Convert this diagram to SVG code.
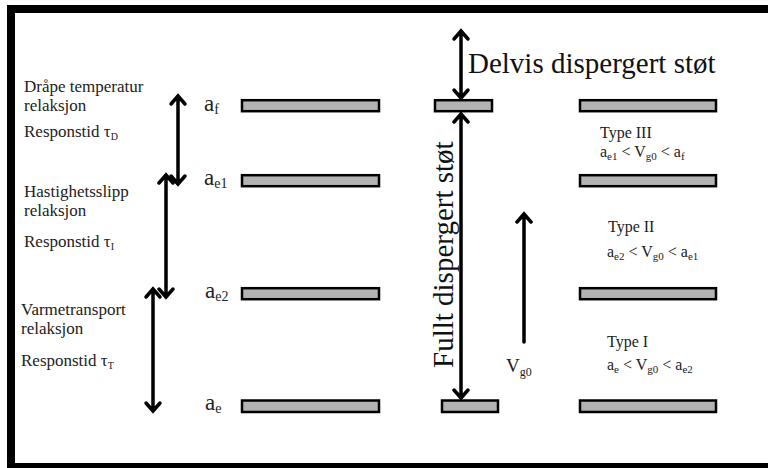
<svg xmlns="http://www.w3.org/2000/svg" width="768" height="468" viewBox="0 0 768 468">
<style>
.bar{fill:#b3b3b3;stroke:#000;stroke-width:2.5}
.t{font-family:"Liberation Serif","Times New Roman",serif;fill:#222}
.lab{font-size:17px}
.lv{font-size:23px}
.lvs{font-size:14px}
.rt{font-size:16px}
.rs{font-size:11px}
.big{font-size:29px;fill:#111}
.tau{font-size:17px}
.taus{font-size:10px}
.ln{fill:none;stroke:#000;stroke-width:3.5;stroke-linecap:round;stroke-linejoin:miter}
</style>
<rect x="0" y="0" width="768" height="468" fill="#fff"/>
<g id="frame" fill="#000">
<rect x="7" y="5" width="761" height="8"/>
<rect x="7" y="5" width="8" height="463"/>
<rect x="7" y="463" width="761" height="5"/>
</g>
<g id="level-af">
<rect class="bar" x="242" y="100.2" width="137" height="11"/>
<rect class="bar" x="435" y="100.2" width="57" height="11"/>
<rect class="bar" x="580" y="100.2" width="136" height="11"/>
<text class="t lv" x="204" y="111">a<tspan class="lvs" dy="3">f</tspan></text>
</g>
<g id="level-ae1">
<rect class="bar" x="242" y="175.2" width="137" height="11"/>
<rect class="bar" x="580" y="175.2" width="136" height="11"/>
<text class="t lv" x="204" y="185">a<tspan class="lvs" dy="3">e1</tspan></text>
</g>
<g id="level-ae2">
<rect class="bar" x="242" y="288.2" width="137" height="11"/>
<rect class="bar" x="580" y="288.2" width="136" height="11"/>
<text class="t lv" x="205" y="298">a<tspan class="lvs" dy="3">e2</tspan></text>
</g>
<g id="level-ae">
<rect class="bar" x="242" y="400.5" width="137" height="11.5"/>
<rect class="bar" x="442" y="400.5" width="56" height="11.5"/>
<rect class="bar" x="580" y="400.5" width="136" height="11.5"/>
<text class="t lv" x="205" y="410">a<tspan class="lvs" dy="3">e</tspan></text>
</g>
<g id="label-drape">
<text class="t lab" x="24" y="92">Dråpe temperatur</text>
<text class="t lab" x="24" y="111">relaksjon</text>
<text class="t lab" x="24" y="137">Responstid <tspan class="tau">τ</tspan><tspan class="taus" dy="3">D</tspan></text>
</g>
<g id="label-hastighet">
<text class="t lab" x="24" y="197">Hastighetsslipp</text>
<text class="t lab" x="24" y="216">relaksjon</text>
<text class="t lab" x="24" y="247">Responstid <tspan class="tau">τ</tspan><tspan class="taus" dy="3">I</tspan></text>
</g>
<g id="label-varme">
<text class="t lab" x="21" y="315">Varmetransport</text>
<text class="t lab" x="21" y="334">relaksjon</text>
<text class="t lab" x="21" y="366">Responstid <tspan class="tau">τ</tspan><tspan class="taus" dy="3">T</tspan></text>
</g>
<g id="label-delvis">
<text class="t big" x="468" y="73">Delvis dispergert støt</text>
</g>
<g id="label-fullt">
<text class="t big" transform="translate(453,368) rotate(-90)" x="0" y="0">Fullt dispergert støt</text>
</g>
<g id="label-vg0">
<text class="t" x="506" y="372" font-size="19">V<tspan font-size="12" dy="4">g0</tspan></text>
</g>
<g id="type3">
<text class="t rt" x="600" y="138">Type III</text>
<text class="t rt" x="600" y="157">a<tspan class="rs" dy="3">e1</tspan><tspan dy="-3"> &lt; V</tspan><tspan class="rs" dy="3">g0</tspan><tspan dy="-3"> &lt; a</tspan><tspan class="rs" dy="3">f</tspan></text>
</g>
<g id="type2">
<text class="t rt" x="608" y="232">Type II</text>
<text class="t rt" x="607" y="257">a<tspan class="rs" dy="3">e2</tspan><tspan dy="-3"> &lt; V</tspan><tspan class="rs" dy="3">g0</tspan><tspan dy="-3"> &lt; a</tspan><tspan class="rs" dy="3">e1</tspan></text>
</g>
<g id="type1">
<text class="t rt" x="607" y="347">Type I</text>
<text class="t rt" x="607" y="370">a<tspan class="rs" dy="3">e</tspan><tspan dy="-3"> &lt; V</tspan><tspan class="rs" dy="3">g0</tspan><tspan dy="-3"> &lt; a</tspan><tspan class="rs" dy="3">e2</tspan></text>
</g>
<g id="connectors" class="ln">
<path d="M178,96 V184 M171,104 L178,96 L185,104 M171,176 L178,184 L185,176"/>
<path d="M166,175 V297 M159,183 L166,175 L173,183 M159,289 L166,297 L173,289"/>
<path d="M153,289 V411 M146,297 L153,289 L160,297 M146,403 L153,411 L160,403"/>
<path d="M461,31 V98 M454,39 L461,31 L468,39 M454,90 L461,98 L468,90"/>
<path d="M461,114 V398 M454,122 L461,114 L468,122 M454,390 L461,398 L468,390"/>
<path d="M524,214 V342 M517,222 L524,214 L531,222"/>
</g>
</svg>
